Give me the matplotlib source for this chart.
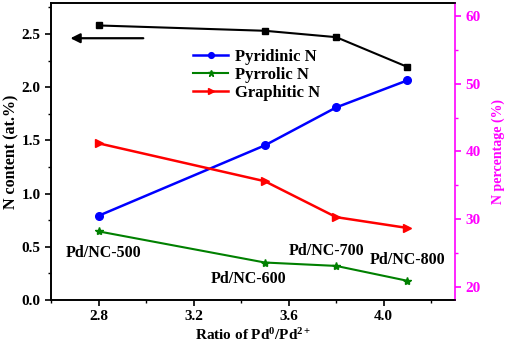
import matplotlib
matplotlib.use("Agg")
import matplotlib.pyplot as plt
from matplotlib.ticker import MultipleLocator

plt.rcParams['font.family'] = ['Liberation Serif', 'DejaVu Serif']
plt.rcParams['font.weight'] = 'bold'
plt.rcParams['mathtext.fontset'] = 'custom'
plt.rcParams['mathtext.rm'] = 'Liberation Serif:bold'
plt.rcParams['mathtext.it'] = 'Liberation Serif:bold'
plt.rcParams['mathtext.bf'] = 'Liberation Serif:bold'

ratio = [2.8, 3.5, 3.8, 4.1]
n_content = [2.58, 2.53, 2.47, 2.19]
pyridinic = [30.5, 40.9, 46.5, 50.5]
pyrrolic = [28.2, 23.6, 23.1, 20.9]
graphitic = [41.2, 35.6, 30.3, 28.7]
samples = ["Pd/NC-500", "Pd/NC-600", "Pd/NC-700", "Pd/NC-800"]

MAG = '#ff00ff'
fig = plt.figure(figsize=(5.05, 3.46), dpi=100)
ax = fig.add_axes([0.101, 0.133, 0.800, 0.858])
ax2 = ax.twinx()

ax.plot(ratio, n_content, color='black', marker='s', markersize=4.5, lw=1.5)
ax2.plot(ratio, pyridinic, color='#0000ff', marker='o', markersize=5.5, lw=1.8, label='Pyridinic N')
ax2.plot(ratio, pyrrolic, color='#008000', marker='*', markersize=6, lw=1.5, label='Pyrrolic N')
ax2.plot(ratio, graphitic, color='#ff0000', marker='>', markersize=6, lw=1.8, label='Graphitic N')

ax.set_xlim(2.6, 4.3)
ax.set_ylim(0, 2.79)
ax2.set_ylim(18.07, 61.9)

ax.xaxis.set_major_locator(MultipleLocator(0.4))
ax.xaxis.set_minor_locator(MultipleLocator(0.2))
ax.yaxis.set_major_locator(MultipleLocator(0.5))
ax.yaxis.set_minor_locator(MultipleLocator(0.25))
ax2.yaxis.set_major_locator(MultipleLocator(10))
ax2.yaxis.set_minor_locator(MultipleLocator(5))

ax.tick_params(axis='both', which='major', direction='out', length=4, width=1.2, labelsize=11)
ax.tick_params(axis='both', which='minor', direction='out', length=2.5, width=1.0)
ax.tick_params(axis='x', which='both', top=False)
ax2.tick_params(axis='y', which='major', direction='out', length=4, width=1.2, labelsize=11, colors=MAG)
ax2.tick_params(axis='y', which='minor', direction='out', length=2.5, width=1.0, colors=MAG)
ax.set_xticklabels(['%.1f' % t for t in ax.get_xticks()])

for sp in ax.spines.values():
    sp.set_linewidth(1.2)
for sp in ax2.spines.values():
    sp.set_linewidth(1.2)
ax2.spines['right'].set_color(MAG)
ax.spines['right'].set_visible(False)

ax.set_xlabel('Ratio of Pd$^{0}$/Pd$^{2+}$', fontsize=11, fontweight='bold', labelpad=3)
ax.set_ylabel('N content (at.%)', fontsize=11.5, fontweight='bold', labelpad=1.5)
ax2.set_ylabel('N percentage (%)', fontsize=10, fontweight='bold', color=MAG, labelpad=8)

ax.annotate('', xy=(2.67, 2.46), xytext=(3.0, 2.46),
            arrowprops=dict(arrowstyle='-|>', color='black', lw=1.6, mutation_scale=14))

leg = ax2.legend(loc='upper left', bbox_to_anchor=(0.335, 0.867), frameon=False, borderaxespad=0,
                 fontsize=12, handlelength=2.1, labelspacing=0.1, handletextpad=0.4,
                 markerscale=0.75)

ax.text(2.66, 0.44, samples[0], fontsize=11.5, fontweight='bold', va='center')
ax.text(3.27, 0.2, samples[1], fontsize=11.5, fontweight='bold', va='center')
ax.text(3.60, 0.46, samples[2], fontsize=11.5, fontweight='bold', va='center')
ax.text(3.94, 0.38, samples[3], fontsize=11.5, fontweight='bold', va='center')

fig.savefig('out.png', dpi=100)
